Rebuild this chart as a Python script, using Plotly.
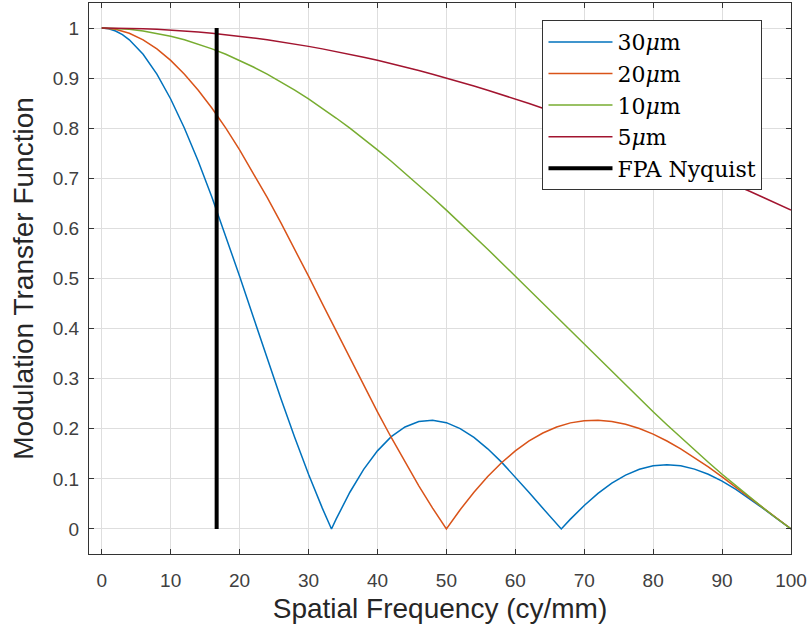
import plotly.graph_objects as go

# ---- data ----
freq = [0, 2, 4, 6, 8, 10, 12, 14, 16, 18, 20, 22, 24, 26, 28, 30, 32, 34, 36, 38, 40,
        42, 44, 46, 48, 50, 52, 54, 56, 58, 60, 62, 64, 66, 68, 70, 72, 74, 76, 78, 80,
        82, 84, 86, 88, 90, 92, 94, 96, 98, 100]

freq_30 = [0, 1, 2, 3, 4, 6, 8, 10, 12, 14, 16, 18, 20, 22, 24, 26, 28, 30, 32, 33.33, 34, 36, 38, 40,
           42, 44, 46, 48, 50, 52, 54, 56, 58, 60, 62, 64, 66, 66.67, 68, 70, 72, 74, 76, 78, 80,
           82, 84, 86, 88, 90, 92, 94, 96, 98, 100]
mtf_30 = [1.0, 0.9985, 0.9941, 0.9867, 0.9765, 0.9476, 0.9079, 0.8584, 0.8001, 0.7341, 0.6618,
          0.5848, 0.5046, 0.4226, 0.3406, 0.2601, 0.1826, 0.1093, 0.0416, 0.0, 0.0196, 0.0733,
          0.1189, 0.1559, 0.1842, 0.2036, 0.2145, 0.2171, 0.2122, 0.2004, 0.1827, 0.1600,
          0.1334, 0.1039, 0.0729, 0.0412, 0.0101, 0.0, 0.0196, 0.0468, 0.0710, 0.0914, 0.1076,
          0.1192, 0.1261, 0.1284, 0.1261, 0.1195, 0.1091, 0.0954, 0.0790, 0.0605, 0.0407,
          0.0203, 0.0]

mtf_20 = [1.0, 0.9974, 0.9895, 0.9765, 0.9584, 0.9355, 0.9079, 0.8759, 0.8399, 0.8001, 0.7568,
          0.7106, 0.6618, 0.6109, 0.5584, 0.5046, 0.4500, 0.3952, 0.3406, 0.2867, 0.2339,
          0.1826, 0.1332, 0.0861, 0.0416, 0.0, 0.0384, 0.0733, 0.1046, 0.1322, 0.1559,
          0.1757, 0.1916, 0.2036, 0.2118, 0.2162, 0.2171, 0.2147, 0.2090, 0.2004, 0.1892,
          0.1756, 0.1600, 0.1426, 0.1238, 0.1039, 0.0833, 0.0623, 0.0412, 0.0204, 0.0]

mtf_10 = [1.0, 0.9993, 0.9974, 0.9941, 0.9895, 0.9836, 0.9765, 0.9681, 0.9584, 0.9476, 0.9355,
          0.9223, 0.9079, 0.8925, 0.8759, 0.8584, 0.8399, 0.8204, 0.8001, 0.7788, 0.7568,
          0.7341, 0.7106, 0.6865, 0.6618, 0.6366, 0.6109, 0.5848, 0.5584, 0.5316, 0.5046,
          0.4774, 0.4500, 0.4226, 0.3952, 0.3679, 0.3406, 0.3136, 0.2867, 0.2601, 0.2339,
          0.2080, 0.1826, 0.1576, 0.1332, 0.1093, 0.0861, 0.0635, 0.0416, 0.0204, 0.0]

mtf_5 = [1.0, 0.9998, 0.9993, 0.9985, 0.9974, 0.9959, 0.9941, 0.9920, 0.9895, 0.9867, 0.9836,
         0.9802, 0.9765, 0.9724, 0.9681, 0.9634, 0.9584, 0.9531, 0.9476, 0.9417, 0.9355,
         0.9290, 0.9223, 0.9152, 0.9079, 0.9003, 0.8925, 0.8843, 0.8759, 0.8673, 0.8584,
         0.8493, 0.8399, 0.8303, 0.8204, 0.8103, 0.8001, 0.7895, 0.7788, 0.7679, 0.7568,
         0.7455, 0.7341, 0.7224, 0.7106, 0.6987, 0.6865, 0.6743, 0.6618, 0.6493, 0.6366]

nyquist_x = [16.67, 16.67]
nyquist_y = [0, 1]

series_names = ["30<i>μ</i>m", "20<i>μ</i>m", "10<i>μ</i>m", "5<i>μ</i>m", "FPA Nyquist"]
colors = ["#0072BD", "#D95319", "#77AC30", "#A2142F", "#000000"]

x_ticks = [0, 10, 20, 30, 40, 50, 60, 70, 80, 90, 100]
y_ticks = [0, 0.1, 0.2, 0.3, 0.4, 0.5, 0.6, 0.7, 0.8, 0.9, 1]
y_tick_labels = ["0", "0.1", "0.2", "0.3", "0.4", "0.5", "0.6", "0.7", "0.8", "0.9", "1"]

fig = go.Figure()
xs = [freq_30, freq, freq, freq]
ys = [mtf_30, mtf_20, mtf_10, mtf_5]
for i in range(4):
    fig.add_trace(go.Scatter(x=xs[i], y=ys[i], mode="lines", name=series_names[i],
                             line=dict(color=colors[i], width=1.5, shape="linear")))
fig.add_trace(go.Scatter(x=nyquist_x, y=nyquist_y, mode="lines", name=series_names[4],
                         line=dict(color=colors[4], width=4)))

axis_common = dict(
    showline=True, linecolor="#333333", linewidth=1, mirror="ticks",
    ticks="inside", ticklen=5, tickcolor="#333333", tickwidth=1,
    showgrid=True, gridcolor="#dedede", gridwidth=1, zeroline=False,
    tickfont=dict(family="Liberation Sans, Arial, sans-serif", size=19, color="#404040"),
)

fig.update_layout(
    width=810, height=636,
    margin=dict(l=89, r=19, t=3, b=82),
    paper_bgcolor="white", plot_bgcolor="white",
    xaxis=dict(range=[-1.85, 100], tickvals=x_ticks, ticklabelstandoff=9,
               title=dict(text="Spatial Frequency (cy/mm)", standoff=8,
                          font=dict(family="Liberation Sans, Arial, sans-serif", size=28,
                                    color="#262626")),
               **axis_common),
    yaxis=dict(range=[-0.05, 1.05], tickvals=y_ticks, ticktext=y_tick_labels,
               ticklabelstandoff=5,
               title=dict(text="Modulation Transfer Function", standoff=10,
                          font=dict(family="Liberation Sans, Arial, sans-serif", size=28,
                                    color="#262626")),
               **axis_common),
    legend=dict(x=0.646, y=0.969, xanchor="left", yanchor="top",
                bgcolor="white", bordercolor="#333333", borderwidth=1,
                font=dict(family="DejaVu Serif, Liberation Serif, serif", size=22,
                          color="#000000"),
                tracegroupgap=0, itemwidth=64),
    showlegend=True,
)

fig.write_html("out.html")
